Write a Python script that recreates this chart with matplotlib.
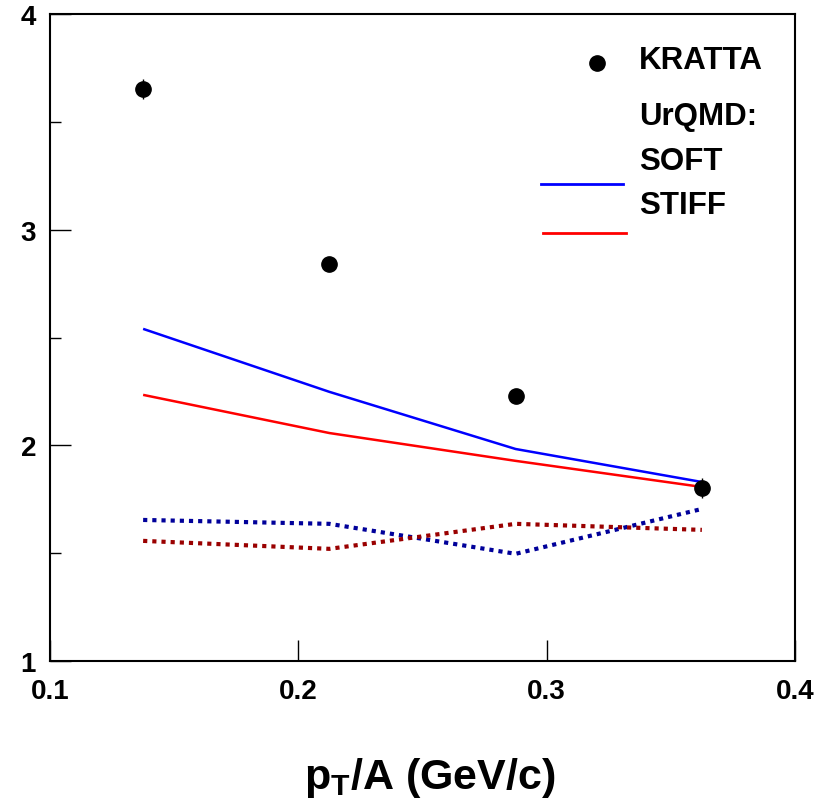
import matplotlib
matplotlib.use("Agg")
import matplotlib.pyplot as plt
from matplotlib.lines import Line2D

plt.rcParams['font.family'] = ['Liberation Sans', 'DejaVu Sans']
plt.rcParams['font.weight'] = 'bold'
plt.rcParams['mathtext.fontset'] = 'custom'
plt.rcParams['mathtext.rm'] = 'Liberation Sans:bold'
plt.rcParams['mathtext.bf'] = 'Liberation Sans:bold'

# Data
pt = [0.1375, 0.2125, 0.2875, 0.3625]
kratta = [3.652, 2.841, 2.229, 1.802]
kratta_err = [0.045, 0.02, 0.02, 0.045]
soft = [2.540, 2.248, 1.983, 1.830]
stiff = [2.234, 2.057, 1.928, 1.807]
soft_dot = [1.654, 1.636, 1.497, 1.705]
stiff_dot = [1.557, 1.520, 1.636, 1.608]

xticks = [0.1, 0.2, 0.3, 0.4]
yticks = [1, 2, 3, 4]
yminor = [1.5, 2.5, 3.5]

fig = plt.figure(figsize=(8.34, 8.03), dpi=100)
ax = fig.add_axes([50/834, 141/803, 745/834, 647/803])

ax.plot(pt, soft, color='#0000ff', lw=1.8, solid_capstyle='butt')
ax.plot(pt, stiff, color='#ff0000', lw=1.8, solid_capstyle='butt')
ax.plot(pt, soft_dot, color='#00009a', lw=3.0, linestyle=(0, (1, 1.2)), dash_capstyle='butt')
ax.plot(pt, stiff_dot, color='#9a0000', lw=3.0, linestyle=(0, (1, 1.2)), dash_capstyle='butt')
ax.errorbar(pt, kratta, yerr=kratta_err, fmt='o', color='black', ms=11,
            elinewidth=1.0, capsize=0, zorder=5)

ax.set_xlim(0.1, 0.4)
ax.set_ylim(1, 4)
ax.set_xticks(xticks)
ax.set_xticklabels(['0.1', '0.2', '0.3', '0.4'])
ax.set_yticks(yticks)
ax.set_yticklabels(['1', '2', '3', '4'])
ax.set_yticks(yminor, minor=True)
ax.tick_params(axis='both', which='major', direction='in', length=15, width=1.0,
               labelsize=20)
ax.tick_params(axis='y', which='minor', direction='in', length=8, width=1.0)
ax.tick_params(axis='x', which='major', pad=12)
ax.tick_params(axis='y', which='major', pad=10)
for lab in ax.get_xticklabels() + ax.get_yticklabels():
    lab.set_fontweight('bold')
for s in ax.spines.values():
    s.set_linewidth(1.5)

fig.text(430/834, 1 - 778/803, r'p$_\mathbf{T}$/A (GeV/c)', fontsize=31,
         fontweight='bold', ha='center', va='center')

# Legend (manual, in axes coordinates)
tr = ax.transAxes
def px(x, y):
    return ((x - 50) / 745, (662 - y) / 647)

ax.plot(*px(597, 64), marker='o', color='black', ms=11, transform=tr, clip_on=False)
for txt, yy in [('KRATTA', 61), ('UrQMD:', 117), ('SOFT', 162), ('STIFF', 206)]:
    ax.text(*px(639, yy), txt, transform=tr, fontsize=22.5, fontweight='bold',
            va='center', ha='left')
x0, y0 = px(541, 185); x1, _ = px(623, 185)
ax.add_line(Line2D([x0, x1], [y0, y0], color='#0000ff', lw=2.0, transform=tr))
x0, y0 = px(543, 234); x1, _ = px(626, 234)
ax.add_line(Line2D([x0, x1], [y0, y0], color='#ff0000', lw=2.0, transform=tr))

fig.savefig('out.png', dpi=100)
